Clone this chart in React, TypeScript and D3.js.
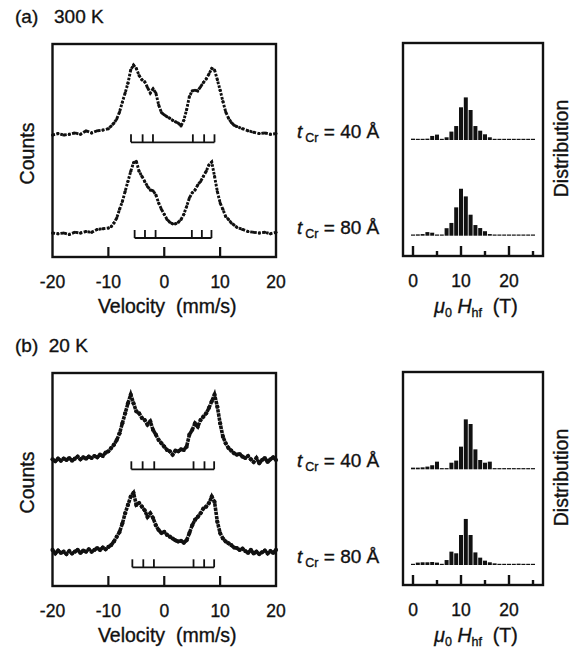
import React from "react";
import * as d3 from "d3";

// ---------- DATA ----------
// Mössbauer spectra: [velocity (mm/s), normalized absorption (peak ≈ 100)]
const spec300K_40: [number, number][] = [
  [-20,0],[-19,2],[-18,0],[-17,1],[-16,3],[-15,1],[-14,6],[-13,3],[-12,6],[-11,7],[-10,9],[-9.5,13],[-9,17],[-8.5,23],[-8,33],[-7.5,47],[-7,60],[-6.5,74],[-6,93],[-5.5,100],[-5,95],[-4.5,85],[-4,79],[-3.5,76],[-3,68],[-2.5,60],[-2,66],[-1.5,60],[-1,43],[-0.5,32],[0,29],[0.5,26],[1,24],[1.5,21],[2,19],[2.5,17],[3,13],[3.5,21],[4,36],[4.5,55],[5,63],[5.5,64],[6,63],[6.5,69],[7,75],[7.5,80],[8,87],[8.5,95],[9,93],[9.5,79],[10,64],[10.5,48],[11,33],[11.5,24],[12,18],[12.5,14],[13,12],[14,9],[15,6],[16,4],[17,2],[18,3],[19,1],[20,2]
];
const spec300K_80: [number, number][] = [
  [-20,0],[-19,-1],[-18,0],[-17,-2],[-16,1],[-15,0],[-14,2],[-13,1],[-12,5],[-11,6],[-10,7],[-9.5,9],[-9,14],[-8.5,21],[-8,33],[-7.5,44],[-7,58],[-6.5,72],[-6,86],[-5.5,98],[-5,100],[-4.5,86],[-4,79],[-3.5,72],[-3,65],[-2.5,60],[-2,59],[-1.5,53],[-1,42],[-0.5,33],[0,26],[0.5,19],[1,15],[1.5,13],[2,13],[2.5,15],[3,19],[3.5,26],[4,37],[4.5,49],[5,56],[5.5,60],[6,67],[6.5,72],[7,79],[7.5,86],[8,95],[8.5,99],[9,79],[9.5,58],[10,42],[10.5,33],[11,23],[11.5,19],[12,14],[12.5,11],[13,8],[14,5],[15,2],[16,1],[17,0],[18,1],[19,-1],[20,1]
];
const spec20K_40: [number, number][] = [
  [-20,1],[-19.5,-2],[-19,2],[-18.5,-1],[-18,2],[-17.5,0],[-17,3],[-16.5,-1],[-16,2],[-15.5,5],[-15,1],[-14.5,4],[-14,2],[-13.5,5],[-13,3],[-12.5,6],[-12,4],[-11.5,8],[-11,6],[-10.5,11],[-10,13],[-9.5,18],[-9,23],[-8.5,30],[-8,40],[-7.5,55],[-7,70],[-6.5,85],[-6,98],[-5.5,85],[-5,73],[-4.5,70],[-4,63],[-3.5,60],[-3,53],[-2.5,58],[-2,45],[-1.5,38],[-1,30],[-0.5,25],[0,20],[0.5,15],[1,13],[1.5,8],[2,14],[2.5,13],[3,16],[3.5,15],[4,20],[4.5,38],[5,45],[5.5,55],[6,50],[6.5,60],[7,65],[7.5,70],[8,78],[8.5,88],[9,98],[9.5,80],[10,55],[10.5,35],[11,25],[11.5,18],[12,14],[12.5,10],[13,8],[13.5,9],[14,5],[14.5,3],[15,6],[15.5,1],[16,-3],[16.5,3],[17,-5],[17.5,0],[18,3],[18.5,-3],[19,1],[19.5,4],[20,0]
];
const spec20K_80: [number, number][] = [
  [-20,3],[-19.5,-3],[-19,2],[-18.5,-2],[-18,0],[-17.5,-4],[-17,1],[-16.5,-3],[-16,0],[-15.5,3],[-15,-2],[-14.5,2],[-14,0],[-13.5,4],[-13,0],[-12.5,3],[-12,6],[-11.5,3],[-11,7],[-10.5,4],[-10,8],[-9.5,11],[-9,17],[-8.5,25],[-8,33],[-7.5,47],[-7,64],[-6.5,78],[-6,92],[-5.5,98],[-5,78],[-4.5,81],[-4,75],[-3.5,69],[-3,58],[-2.5,64],[-2,56],[-1.5,44],[-1,36],[-0.5,31],[0,33],[0.5,28],[1,25],[1.5,22],[2,19],[2.5,17],[3,18],[3.5,15],[4,19],[4.5,31],[5,44],[5.5,53],[6,58],[6.5,64],[7,72],[7.5,75],[8,81],[8.5,92],[9,83],[9.5,50],[10,31],[10.5,22],[11,17],[11.5,14],[12,11],[12.5,7],[13,6],[13.5,3],[14,5],[14.5,1],[15,-2],[15.5,3],[16,-3],[16.5,0],[17,-4],[17.5,-1],[18,2],[18.5,-3],[19,1],[19.5,-2],[20,3]
];

// Sextet stick positions (mm/s)
const sticks300K_40 = [-5.95, -3.87, -2.02, 5.12, 7.14, 8.99];
const sticks300K_80 = [-5.3, -3.45, -1.55, 4.94, 6.73, 8.45];
const sticks20K_40 = [-5.89, -3.87, -1.79, 5.24, 7.2, 8.93];
const sticks20K_80 = [-5.71, -3.75, -1.85, 5.24, 7.14, 8.93];

// Hyperfine-field distributions (bins in T, distribution in arb. units)
const hfBins = [0,1,2,3,4,5,6,7,8,9,10,11,12,13,14,15,16,17,18,19,20,21,22,23,24,25];
const dist300K_40 = [0.9,0.4,0.3,0.9,2.7,3.6,0.4,1.8,5.6,9.3,21.8,28.4,20.0,9.3,6.2,3.8,1.8,0.6,0.6,0.6,0.6,0.6,0.6,0.6,0.6,0.6];
const dist300K_80 = [0.7,0.9,1.1,2.4,2.0,0.7,0.3,5.0,8.5,18.9,31.3,26.2,14.0,7.1,5.1,3.0,1.1,0.6,0.6,0.6,0.6,0.6,0.6,0.6,0.6,0.6];
const dist20K_40 = [1.1,1.1,1.3,1.8,2.7,5.1,0.4,0.4,4.4,5.8,15.1,33.3,30.2,13.3,6.2,4.4,5.1,0.5,0.5,0.5,0.5,0.5,0.5,0.5,0.5,0.5];
const dist20K_80 = [0.7,1.6,1.8,1.8,2.0,1.6,0.7,3.3,8.9,7.8,20.0,30.7,20.0,8.4,4.9,2.9,1.8,1.1,0.5,0.5,0.5,0.5,0.9,0.5,0.5,0.5];

const velTicks = [-20, -10, 0, 10, 20];
const velInnerTicks = [-10, 0, 10];
const hfMajorTicks = [0, 10, 20];
const hfMinorTicks = [5, 15, 25];

// ---------- LAYOUT ----------
const FONT = "'Liberation Sans', Arial, Helvetica, sans-serif";
const INK = "#111";
const TXT = { fontFamily: FONT, fill: INK, stroke: INK, strokeWidth: 0.35 } as const;
const W = 580, H = 656;
const LX0 = 52.5, LX1 = 276;
const RX0 = 403, RX1 = 543;

const xVel = d3.scaleLinear().domain([-20, 20]).range([LX0, LX1]);
const xHf = d3.scaleLinear().domain([0, 25]).range([413, 533]);
const HIST_PX = 1.5; // px per distribution unit

type SpecDef = { data: [number, number][]; base: number; peak: number; sticks: number[]; stickY: number; noisy: boolean };
type HistDef = { data: number[]; base: number };
type PanelDef = {
  y0: number; y1: number; title: string; titleY: number;
  specs: SpecDef[]; hists: HistDef[]; labelYs: number[];
};

const panels: PanelDef[] = [
  {
    y0: 44, y1: 257, title: "(a)\u00a0\u00a0\u00a0300 K", titleY: 22.5,
    specs: [
      { data: spec300K_40, base: 135, peak: 65, sticks: sticks300K_40, stickY: 142.3, noisy: false },
      { data: spec300K_80, base: 233, peak: 161.3, sticks: sticks300K_80, stickY: 238, noisy: false },
    ],
    hists: [{ data: dist300K_40, base: 140 }, { data: dist300K_80, base: 235.7 }],
    labelYs: [137.5, 233.5],
  },
  {
    y0: 373, y1: 586, title: "(b)\u00a0\u00a020 K", titleY: 351.5,
    specs: [
      { data: spec20K_40, base: 460, peak: 393.3, sticks: sticks20K_40, stickY: 469.3, noisy: true },
      { data: spec20K_80, base: 551.7, peak: 491.7, sticks: sticks20K_80, stickY: 567.3, noisy: true },
    ],
    hists: [{ data: dist20K_40, base: 469.3 }, { data: dist20K_80, base: 565 }],
    labelYs: [466.5, 563],
  },
];
const thicknessLabels = ["40", "80"];

function Spectrum({ s }: { s: SpecDef }) {
  const y = d3.scaleLinear().domain([0, 100]).range([s.base, s.peak]);
  const line = d3.line<[number, number]>().x((d) => xVel(d[0])).y((d) => y(d[1]));
  const first = s.sticks[0], last = s.sticks[s.sticks.length - 1];
  return (
    <g>
      <path d={line(s.data) || ""} fill="none" stroke={INK}
        strokeWidth={s.noisy ? 3.6 : 2.9}
        strokeDasharray={s.noisy ? "3.4 0.8" : "2.6 1.4"} />
      {s.data.map((d, i) => (
        <circle key={i} cx={xVel(d[0])} cy={y(d[1])} r={s.noisy ? 2.1 : 1.5} fill={INK} />
      ))}
      <line x1={xVel(first)} x2={xVel(last)} y1={s.stickY} y2={s.stickY} stroke={INK} strokeWidth={1.8} />
      {s.sticks.map((v, i) => (
        <line key={i} x1={xVel(v)} x2={xVel(v)} y1={s.stickY} y2={s.stickY - 8} stroke={INK} strokeWidth={1.8} />
      ))}
    </g>
  );
}

function Histogram({ h }: { h: HistDef }) {
  const bw = xHf(1) - xHf(0);
  return (
    <g>
      {hfBins.map((b, i) => {
        const hgt = Math.max(h.data[i] * HIST_PX, 1.2);
        return (
          <rect key={i} x={xHf(b) - bw / 2 + 0.4} width={bw - 0.8} y={h.base - hgt} height={hgt} fill={INK} />
        );
      })}
    </g>
  );
}

function Panel({ p }: { p: PanelDef }) {
  const fy = p.y1;
  const midY = (p.y0 + p.y1) / 2;
  return (
    <g>
      <text x={15} y={p.titleY} fontSize={19} {...TXT}>{p.title}</text>
      {/* left frame */}
      <rect x={LX0} y={p.y0} width={LX1 - LX0} height={p.y1 - p.y0} fill="none" stroke={INK} strokeWidth={2.4} />
      {velInnerTicks.map((t) => (
        <line key={t} x1={xVel(t)} x2={xVel(t)} y1={fy} y2={fy - 10} stroke={INK} strokeWidth={2.2} />
      ))}
      {velTicks.map((t) => (
        <text key={t} x={xVel(t)} y={fy + 31} textAnchor="middle" fontSize={17.5} {...TXT}>{t}</text>
      ))}
      <text x={(LX0 + LX1) / 2 + 3} y={fy + 56} textAnchor="middle" fontSize={19.5} {...TXT}>Velocity{"\u00a0\u00a0"}(mm/s)</text>
      <text transform={`translate(34,${midY + 3}) rotate(-90)`} textAnchor="middle" fontSize={19.5} {...TXT}>Counts</text>
      {p.specs.map((s, i) => <Spectrum key={i} s={s} />)}

      {/* thickness labels */}
      {p.labelYs.map((ly, i) => (
        <text key={i} x={297} y={ly} fontSize={19} {...TXT}>
          <tspan fontStyle="italic">t</tspan>
          <tspan fontSize={12.5} dx={3} dy={4}>Cr</tspan>
          <tspan dy={-4}>{"\u00a0= " + thicknessLabels[i] + " Å"}</tspan>
        </text>
      ))}

      {/* right frame */}
      <rect x={RX0} y={p.y0 - 1} width={RX1 - RX0} height={p.y1 - p.y0} fill="none" stroke={INK} strokeWidth={2.4} />
      {hfMajorTicks.map((t) => (
        <line key={t} x1={xHf(t)} x2={xHf(t)} y1={fy - 1} y2={fy - 11} stroke={INK} strokeWidth={2.4} />
      ))}
      {hfMinorTicks.map((t) => (
        <line key={t} x1={xHf(t)} x2={xHf(t)} y1={fy - 1} y2={fy - 6} stroke={INK} strokeWidth={2.4} />
      ))}
      {hfMajorTicks.map((t) => (
        <text key={t} x={xHf(t)} y={fy + 30} textAnchor="middle" fontSize={17.5} {...TXT}>{t}</text>
      ))}
      <text x={476} y={fy + 56} textAnchor="middle" fontSize={19.5} {...TXT}>
        <tspan fontStyle="italic">μ</tspan>
        <tspan fontSize={12.5} dy={4}>0</tspan>
        <tspan fontStyle="italic" dy={-4}>{"\u00a0H"}</tspan>
        <tspan fontSize={12.5} dy={4}>hf</tspan>
        <tspan dy={-4}>{"\u00a0\u00a0(T)"}</tspan>
      </text>
      <text transform={`translate(568,${midY - 2}) rotate(-90)`} textAnchor="middle" fontSize={19.5} {...TXT}>Distribution</text>
      {p.hists.map((h, i) => <Histogram key={i} h={h} />)}
    </g>
  );
}

export default function App() {
  return (
    <svg width={W} height={H} viewBox={`0 0 ${W} ${H}`}
      style={{ position: "absolute", left: 0, top: 0, background: "#fff" }}>
      <rect width={W} height={H} fill="#fff" />
      {panels.map((p, i) => <Panel key={i} p={p} />)}
    </svg>
  );
}
